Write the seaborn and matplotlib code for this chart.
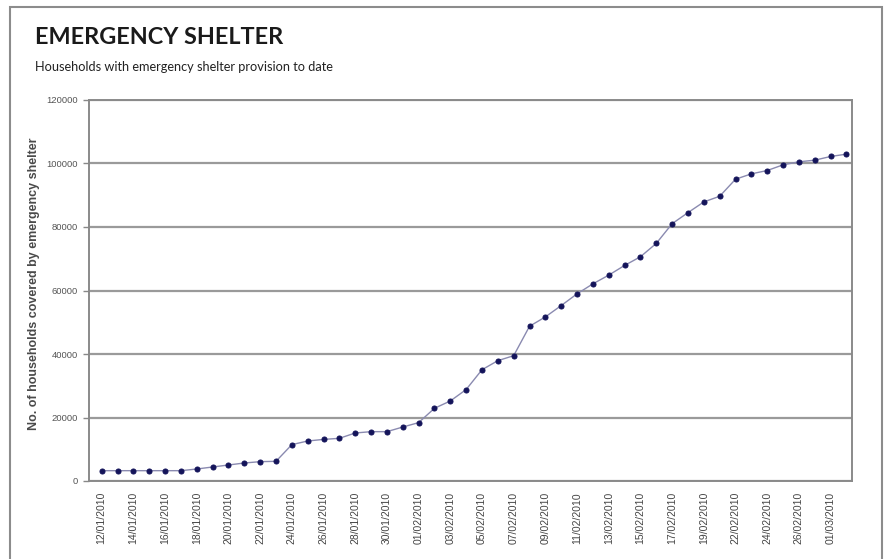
import numpy as np
import pandas as pd
import matplotlib
matplotlib.use('Agg')
import matplotlib.pyplot as plt
from matplotlib.patches import Rectangle
from matplotlib.ticker import FixedLocator
import seaborn as sns

# daily report dates (a couple of days are missing in the source sheet)
dates = ['12/01/2010', '13/01/2010', '14/01/2010', '15/01/2010', '16/01/2010', '17/01/2010',
         '18/01/2010', '19/01/2010', '20/01/2010', '21/01/2010', '22/01/2010', '23/01/2010',
         '24/01/2010', '25/01/2010', '26/01/2010', '27/01/2010', '28/01/2010', '29/01/2010',
         '30/01/2010', '31/01/2010', '01/02/2010', '02/02/2010', '03/02/2010', '04/02/2010',
         '05/02/2010', '06/02/2010', '07/02/2010', '08/02/2010', '09/02/2010', '10/02/2010',
         '11/02/2010', '12/02/2010', '13/02/2010', '14/02/2010', '15/02/2010', '16/02/2010',
         '17/02/2010', '18/02/2010', '19/02/2010', '20/02/2010', '22/02/2010', '23/02/2010',
         '24/02/2010', '25/02/2010', '26/02/2010', '27/02/2010', '01/03/2010', '02/03/2010']

households = [3250, 3250, 3250, 3250, 3250, 3250, 3780, 4410, 5040, 5670, 6090, 6200,
              11450, 12600, 13100, 13440, 15120, 15540, 15540, 17000, 18380, 22900, 25200, 28800,
              35050, 37900, 39470, 48740, 51680, 55260, 58950, 62100, 64840, 67900, 70630, 74840,
              81050, 84530, 87900, 89680, 95050, 96740, 97790, 99580, 100530, 101050, 102210, 102950]

y_ticks = [0, 20000, 40000, 60000, 80000, 100000, 120000]

df = pd.DataFrame({'pos': np.arange(len(dates)), 'date': dates, 'households': households})

sns.set_style('white')
plt.rcParams['font.family'] = ['Liberation Sans', 'DejaVu Sans']

fig = plt.figure(figsize=(8.87, 5.59), dpi=100)
ax = fig.add_axes([89/887, 1-481/559, (852-89)/887, (481-100)/559])

sns.lineplot(data=df, x='pos', y='households', ax=ax, color='#8a8ab0', linewidth=1.0,
             marker='o', markersize=3.6, markerfacecolor='#14145a', markeredgecolor='#14145a')

ax.set_ylim(0, 120000)
ax.set_xlim(-0.8, 47.35)
ax.set_yticks(y_ticks)
ax.set_yticklabels([str(v) for v in y_ticks], fontsize=6.8, color='#555555')
ax.yaxis.grid(True, color='#9a9a9a', linewidth=1.6)
ax.set_axisbelow(True)

# labels every second day, tick marks between days
ax.set_xticks(df['pos'][::2])
ax.set_xticklabels(df['date'][::2], rotation=90, fontsize=7.5, color='#444444')
ax.xaxis.set_minor_locator(FixedLocator(np.arange(len(dates)) + 0.5))
ax.tick_params(axis='x', which='major', length=0, pad=8)
ax.tick_params(axis='x', which='minor', length=4, color='#888888', width=1)
ax.tick_params(axis='y', length=4, color='#888888', width=1, left=True, pad=4)

for s in ax.spines.values():
    s.set_color('#8a8a8a')
    s.set_linewidth(1.4)

ax.set_xlabel('')
ax.set_ylabel('No. of households covered by emergency shelter', fontsize=9,
              fontweight='bold', color='#4a4a4a')
ax.yaxis.set_label_coords(-49/763, 0.518)

fig.text(35/887, 1-37/559, 'EMERGENCY SHELTER', fontsize=16.8, fontweight='bold',
         family=['Lato', 'DejaVu Sans'], color='#1a1a1a', va='center', ha='left')
fig.text(35/887, 1-67/559, 'Households with emergency shelter provision to date', fontsize=9.2,
         family=['Lato', 'DejaVu Sans'], color='#222222', va='center', ha='left')

fig.patches.append(Rectangle((10/887, -0.1), (882-10)/887, 1.1 - 7/559, transform=fig.transFigure,
                             fill=False, edgecolor='#8c8c8c', linewidth=1.5))

fig.savefig('out.png', dpi=100)
